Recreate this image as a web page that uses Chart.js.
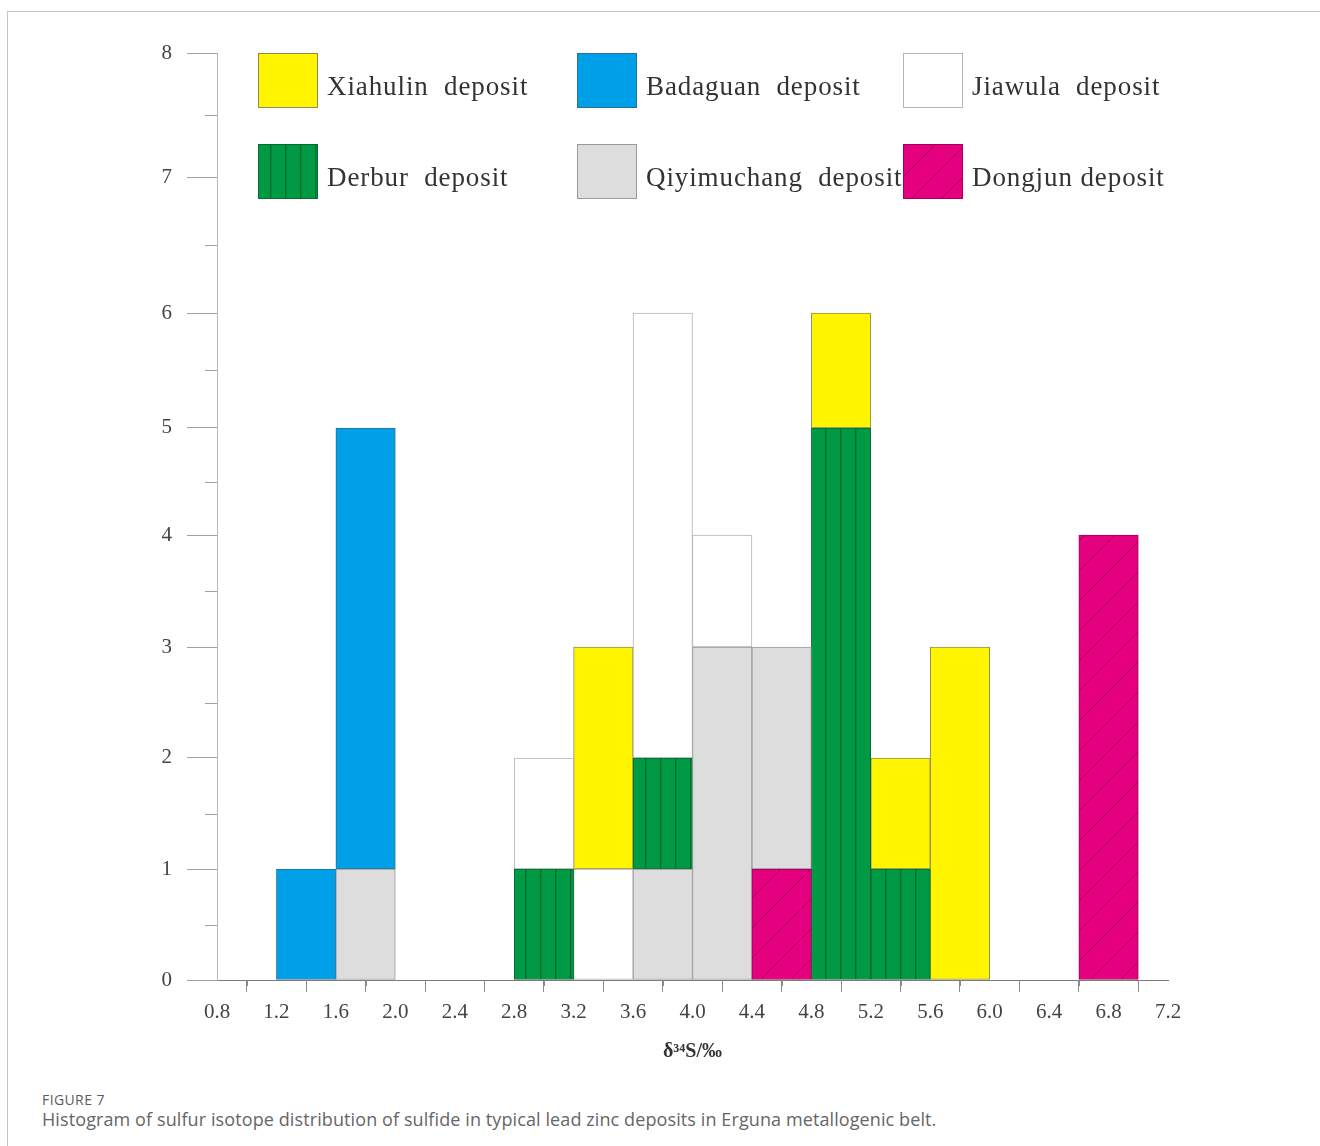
<!DOCTYPE html>
<html>
<head>
<meta charset="utf-8">
<script src="https://cdn.jsdelivr.net/npm/chart.js@4.4.1/dist/chart.umd.min.js"></script>
<style>
  html, body { margin: 0; background: #fff; }
  body { width: 1320px; height: 1146px; position: relative; overflow: hidden; }
  .frame { position: absolute; left: 7px; top: 11px; width: 1400px; height: 1200px;
           border-top: 1px solid #c4c4c4; border-left: 1px solid #c4c4c4; }
  #chart { position: absolute; left: 0; top: 0; }
  .caption { position: absolute; left: 42px; top: 1091px; font-family: "Open Sans", "Noto Sans", sans-serif; color: #5c5c5c; }
  .caption .fig { font-size: 14px; line-height: 17px; letter-spacing: 0.4px; }
  .caption .text { font-size: 18px; line-height: 22px; letter-spacing: 0.1px; color: #666; }
</style>
</head>
<body>
<div class="frame"></div>
<canvas id="chart" width="1320" height="1080"></canvas>
<div class="caption">
  <div class="fig">FIGURE 7</div>
  <div class="text">Histogram of sulfur isotope distribution of sulfide in typical lead zinc deposits in Erguna metallogenic belt.</div>
</div>
<script>
// bin centres (bins are 0.4 wide), δ34S ‰
const BIN_CENTERS = [1.4, 1.8, 3.0, 3.4, 3.8, 4.2, 4.6, 5.0, 5.4, 5.8, 6.8];

// counts per bin, one list per deposit
const XIAHULIN    = [0, 0, 0, 2, 0, 0, 0, 1, 1, 3, 0];
const BADAGUAN    = [1, 4, 0, 0, 0, 0, 0, 0, 0, 0, 0];
const JIAWULA     = [0, 0, 1, 1, 4, 1, 0, 0, 0, 0, 0];
const DERBUR      = [0, 0, 1, 0, 1, 0, 0, 5, 1, 0, 0];
const QIYIMUCHANG = [0, 1, 0, 0, 1, 3, 2, 0, 0, 0, 0];
const DONGJUN     = [0, 0, 0, 0, 0, 0, 1, 0, 0, 0, 4];

const X_MIN = 0.8, X_MAX = 7.2, X_STEP = 0.4;
const Y_MIN = 0, Y_MAX = 8;

const LEGEND_ORDER = ['Xiahulin  deposit', 'Badaguan  deposit', 'Jiawula  deposit',
                      'Derbur  deposit', 'Qiyimuchang  deposit', 'Dongjun deposit'];

// the figure's y axis is unevenly spaced near the top: fraction of axis height at each integer tick
const Y_TICK_FRACTIONS = [0, 0.1197, 0.2395, 0.3592, 0.4800, 0.5955, 0.7195, 0.8662, 1];

const SERIF = '"Liberation Serif", "Times New Roman", serif';

class StretchedScale extends Chart.LinearScale {
  static id = 'stretched';
  getPixelForValue(value) {
    if (value === null || isNaN(value)) return NaN;
    const last = Y_TICK_FRACTIONS.length - 2;
    const i = Math.max(0, Math.min(last, Math.floor(value)));
    const f = Y_TICK_FRACTIONS[i] + (value - i) * (Y_TICK_FRACTIONS[i + 1] - Y_TICK_FRACTIONS[i]);
    return this.bottom - f * (this.bottom - this.top);
  }
  getValueForPixel(pixel) {
    const f = (this.bottom - pixel) / (this.bottom - this.top);
    const last = Y_TICK_FRACTIONS.length - 2;
    let i = 0;
    while (i < last && f > Y_TICK_FRACTIONS[i + 1]) i++;
    return i + (f - Y_TICK_FRACTIONS[i]) / (Y_TICK_FRACTIONS[i + 1] - Y_TICK_FRACTIONS[i]);
  }
}
Chart.register(StretchedScale);

function stripePattern(base, line) {
  const c = document.createElement('canvas');
  c.width = 15; c.height = 4;
  const g = c.getContext('2d');
  g.fillStyle = base; g.fillRect(0, 0, 15, 4);
  g.fillStyle = line; g.fillRect(0, 0, 1.3, 4);
  return g.createPattern(c, 'repeat');
}

function hatchPattern(base, line) {
  const s = 30;
  const c = document.createElement('canvas');
  c.width = s; c.height = s;
  const g = c.getContext('2d');
  g.fillStyle = base; g.fillRect(0, 0, s, s);
  g.strokeStyle = line; g.lineWidth = 1;
  g.beginPath();
  g.moveTo(-2, s + 2); g.lineTo(s + 2, -2);
  g.stroke();
  return g.createPattern(c, 'repeat');
}

function series(counts) {
  return BIN_CENTERS.map((x, i) => ({ x, y: counts[i] })).filter(p => p.y > 0);
}

// stacking order, bottom to top
const datasets = [
  { label: 'Dongjun deposit', data: series(DONGJUN),
    backgroundColor: hatchPattern('#e4007f', '#a8005a'), borderColor: '#a4005a' },
  { label: 'Qiyimuchang  deposit', data: series(QIYIMUCHANG),
    backgroundColor: '#dddddd', borderColor: '#9a9a9a' },
  { label: 'Badaguan  deposit', data: series(BADAGUAN),
    backgroundColor: '#00a0e9', borderColor: '#2b6f98' },
  { label: 'Derbur  deposit', data: series(DERBUR),
    backgroundColor: stripePattern('#009a44', '#00692c'), borderColor: '#0b6a34' },
  { label: 'Jiawula  deposit', data: series(JIAWULA),
    backgroundColor: '#ffffff', borderColor: '#b4b4b4' },
  { label: 'Xiahulin  deposit', data: series(XIAHULIN),
    backgroundColor: '#fff500', borderColor: '#8f8c5a' }
];

const minorTicks = {
  id: 'minorTicks',
  afterDraw(chart) {
    const { ctx, scales: { x, y } } = chart;
    ctx.save();
    ctx.lineWidth = 1;
    ctx.strokeStyle = '#8a8a8a';
    ctx.beginPath();
    for (let v = X_MIN + X_STEP / 2; v < X_MAX; v += X_STEP) {
      const px = Math.round(x.getPixelForValue(v)) + 0.5;
      ctx.moveTo(px, y.bottom);
      ctx.lineTo(px, y.bottom + 6);
    }
    ctx.stroke();
    ctx.strokeStyle = '#a0a0a0';
    ctx.beginPath();
    for (let v = Y_MIN + 0.5; v < Y_MAX; v += 1) {
      const py = Math.round(y.getPixelForValue(v)) + 0.5;
      ctx.moveTo(x.left - 12, py);
      ctx.lineTo(x.left, py);
    }
    ctx.stroke();
    ctx.restore();
  }
};

const LEGEND_COLS = [41, 360, 686];
const LEGEND_ROWS = [0, 91];

const legendGrid = {
  id: 'legendGrid',
  afterDraw(chart) {
    const { ctx, chartArea } = chart;
    ctx.save();
    ctx.font = '27px ' + SERIF;
    ctx.letterSpacing = '0.9px';
    ctx.textBaseline = 'middle';
    LEGEND_ORDER.forEach((label, i) => {
      const ds = chart.data.datasets.find(d => d.label === label);
      const bx = chartArea.left + LEGEND_COLS[i % 3];
      const by = chartArea.top + LEGEND_ROWS[Math.floor(i / 3)];
      ctx.fillStyle = ds.backgroundColor;
      ctx.fillRect(bx, by, 60, 55);
      ctx.strokeStyle = ds.borderColor;
      ctx.lineWidth = 1;
      ctx.strokeRect(bx + 0.5, by + 0.5, 59, 54);
      ctx.fillStyle = '#333';
      ctx.fillText(label, bx + 69, by + 35);
    });
    ctx.restore();
  }
};

new Chart(document.getElementById('chart').getContext('2d'), {
  type: 'bar',
  data: { datasets },
  options: {
    responsive: false,
    devicePixelRatio: 1,
    animation: false,
    layout: { padding: { left: 157, top: 53, right: 152, bottom: 0 } },
    datasets: {
      bar: { categoryPercentage: 1, barPercentage: 1, borderWidth: 1, borderSkipped: false }
    },
    plugins: { legend: { display: false }, tooltip: { enabled: false } },
    scales: {
      x: {
        type: 'linear',
        min: X_MIN,
        max: X_MAX,
        stacked: true,
        offset: false,
        afterFit: s => { s.height = 100; },
        grid: { drawOnChartArea: false, tickLength: 12, tickColor: '#8a8a8a' },
        border: { color: '#7a7a7a', width: 1 },
        ticks: {
          stepSize: X_STEP,
          autoSkip: false,
          maxRotation: 0,
          padding: 8,
          color: '#444',
          font: { family: SERIF, size: 21 },
          callback: v => v.toFixed(1)
        },
        title: {
          display: true,
          text: 'δ³⁴S/‰',
          color: '#333',
          font: { family: SERIF, size: 20, weight: 'bold' },
          padding: { top: 0, bottom: 16 }
        }
      },
      y: {
        type: 'stretched',
        min: Y_MIN,
        max: Y_MAX,
        stacked: true,
        afterFit: s => { s.width = 60; },
        grid: { drawOnChartArea: false, tickLength: 30, tickColor: '#a0a0a0' },
        border: { color: '#b8b8b8', width: 1 },
        ticks: {
          stepSize: 1,
          padding: 15,
          color: '#444',
          font: { family: SERIF, size: 21 }
        }
      }
    }
  },
  plugins: [minorTicks, legendGrid]
});
</script>
</body>
</html>
